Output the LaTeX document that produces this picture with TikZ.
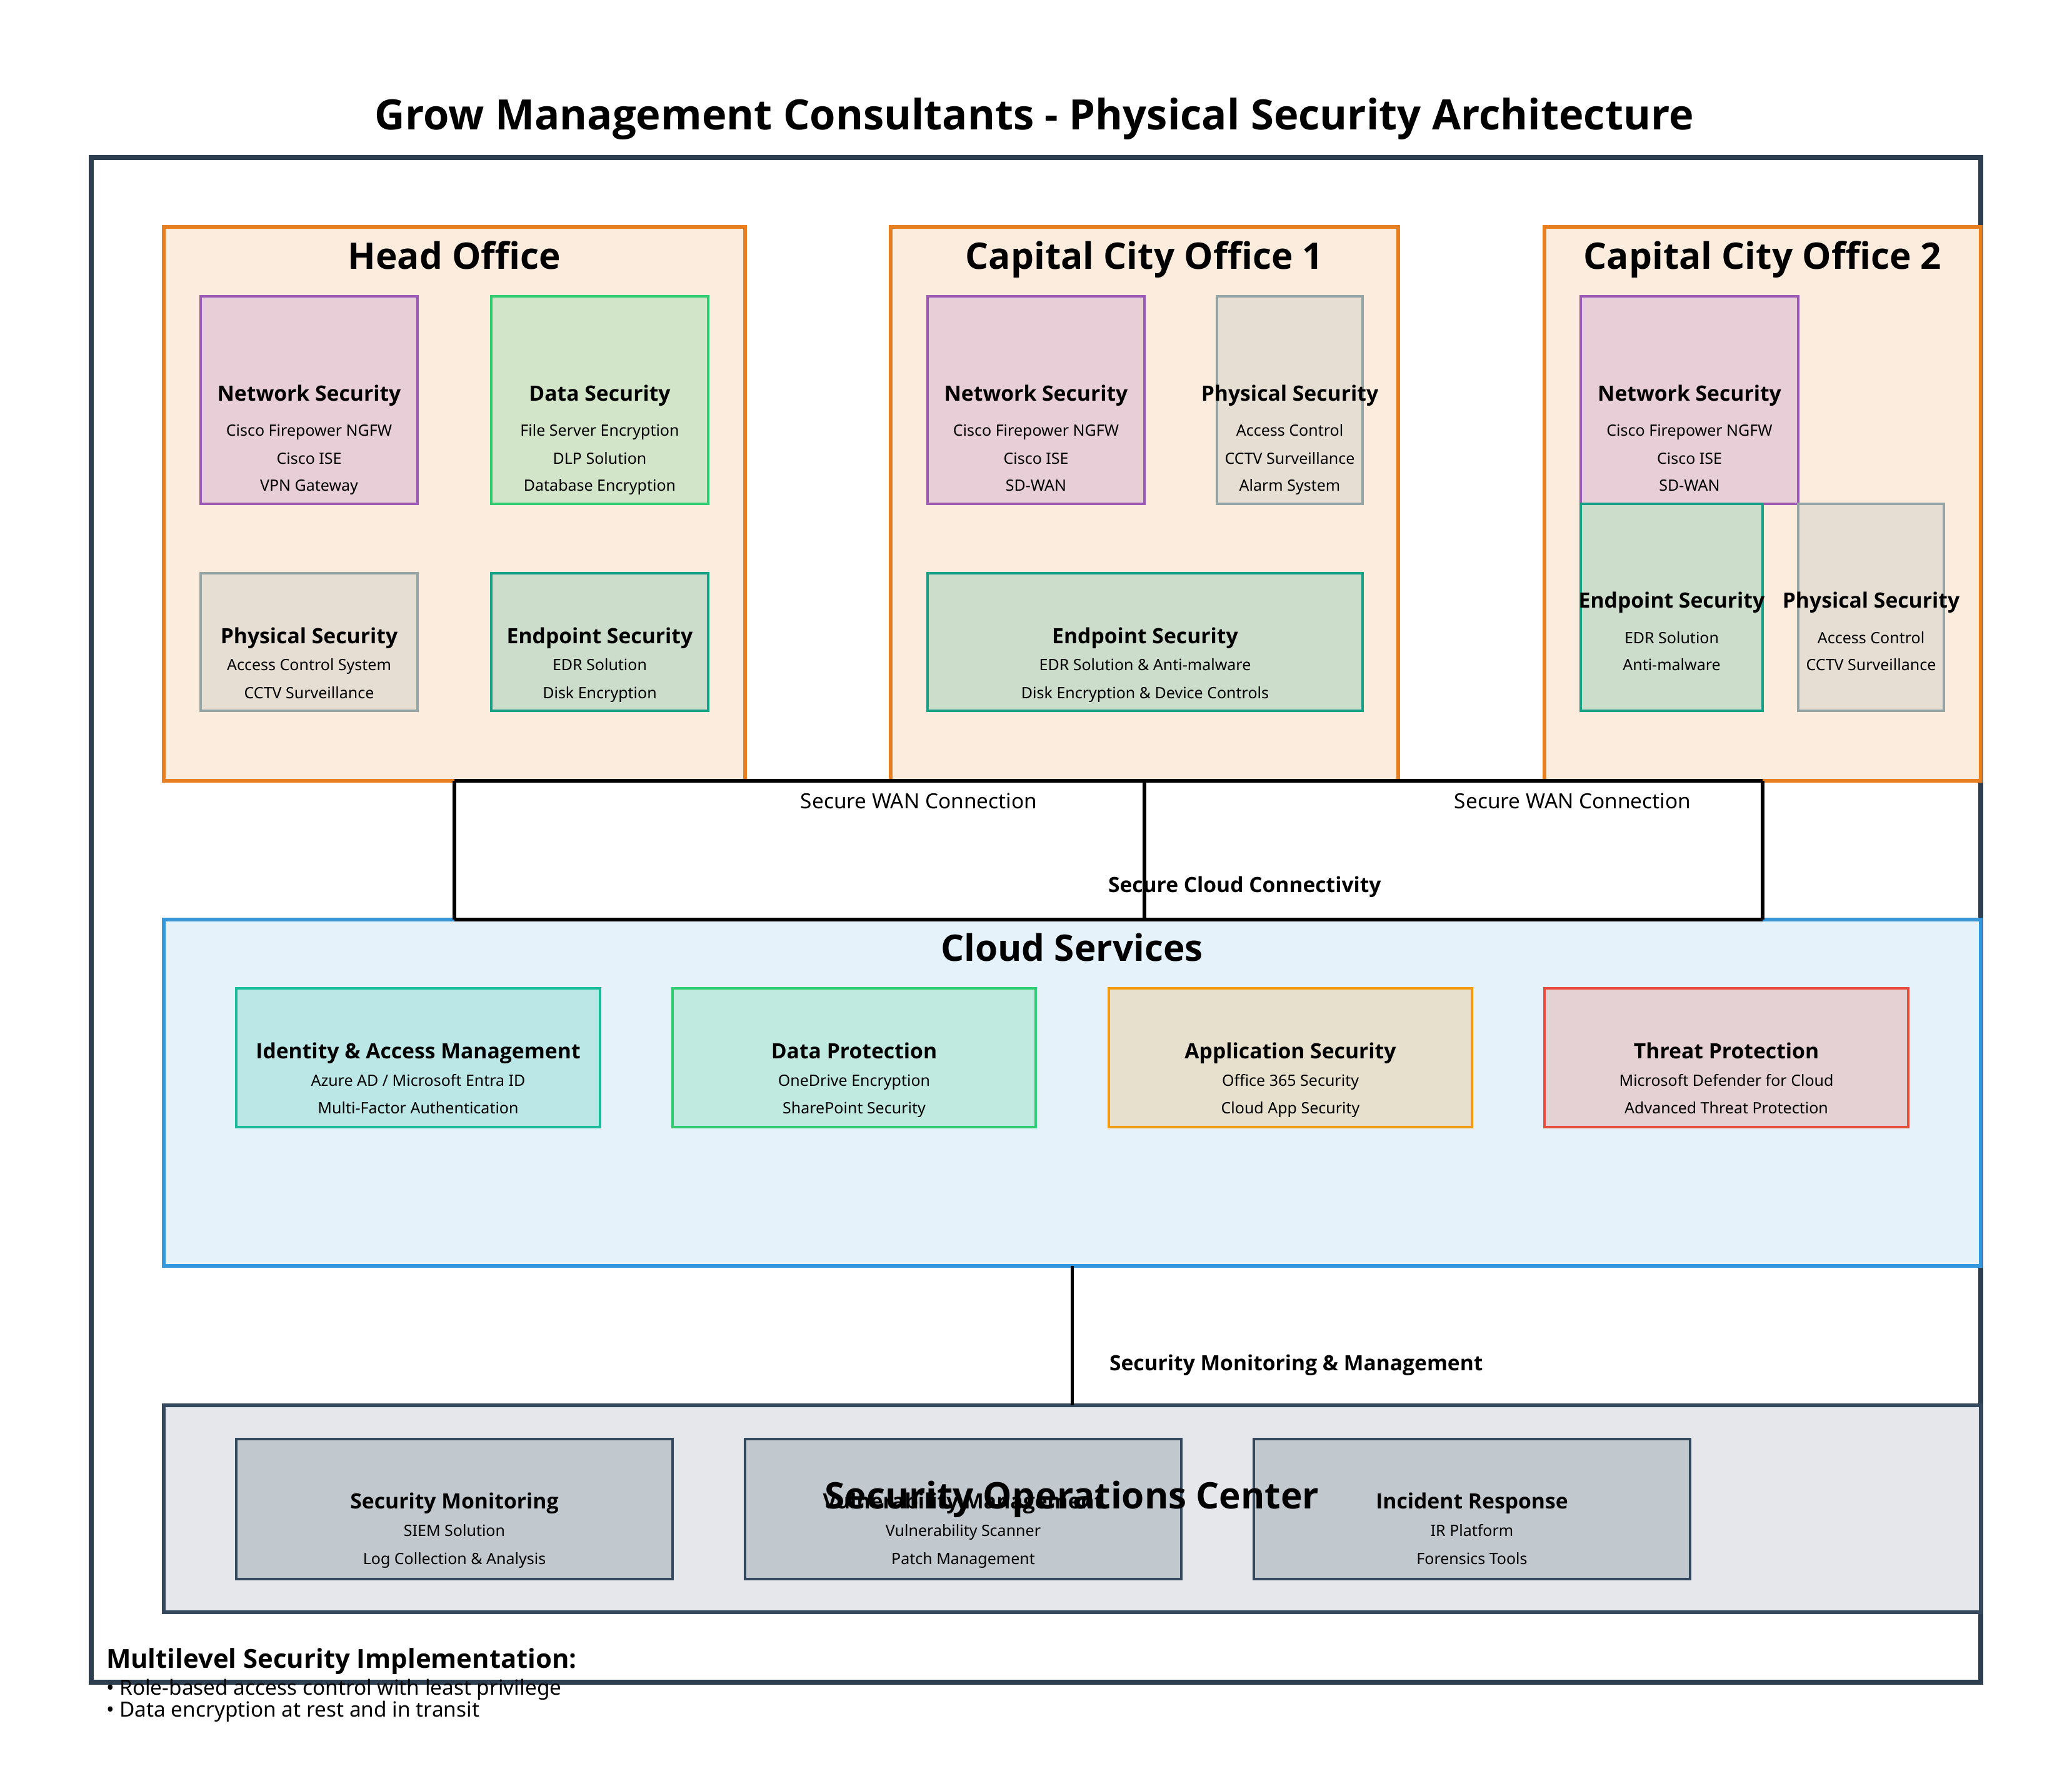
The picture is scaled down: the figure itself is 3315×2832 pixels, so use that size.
\documentclass[tikz,border=0pt]{standalone}
\usepackage{fontspec}
\setmainfont{Noto Sans}
\newfontfamily\bfam{Open Sans}
\definecolor{frameC}{HTML}{2C3E50}
\definecolor{orangeC}{HTML}{E67E22}
\definecolor{purpleC}{HTML}{9B59B6}
\definecolor{greenC}{HTML}{2ECC71}
\definecolor{grayC}{HTML}{95A5A6}
\definecolor{tealC}{HTML}{16A085}
\definecolor{blueC}{HTML}{3498DB}
\definecolor{turqC}{HTML}{1ABC9C}
\definecolor{amberC}{HTML}{F39C12}
\definecolor{redC}{HTML}{E74C3C}
\definecolor{slateC}{HTML}{34495E}
\colorlet{officeF}{orangeC!15}
\colorlet{cloudF}{blueC!13}
\colorlet{socF}{slateC!13}
\newcommand\mybox[6]{\node[#1, anchor=north west, minimum width={(#5-#3)*0.01cm}, minimum height={(#6-#4)*0.01cm}] (#2) at (#3,#4) {};}
\begin{document}
\begin{tikzpicture}[x=0.01cm,y=-0.01cm,
  every node/.style={inner sep=0pt, outer sep=0pt},
  boxbase/.style={rectangle, inner sep=0pt, outer sep=0pt},
  office/.style={boxbase, draw=orangeC, fill=officeF, line width=1.7pt},
  netbox/.style={boxbase, draw=purpleC, fill=purpleC!20!officeF, line width=1.15pt},
  databox/.style={boxbase, draw=greenC, fill=greenC!20!officeF, line width=1.15pt},
  physbox/.style={boxbase, draw=grayC, fill=grayC!20!officeF, line width=1.15pt},
  endbox/.style={boxbase, draw=tealC, fill=tealC!20!officeF, line width=1.15pt},
  cloudbox/.style={boxbase, draw=blueC, fill=cloudF, line width=1.7pt},
  socbox/.style={boxbase, draw=slateC, fill=socF, line width=1.7pt},
  csvc/.style={boxbase, draw=#1, fill=#1!20!cloudF, line width=1.15pt},
  ssvc/.style={boxbase, draw=slateC, fill=slateC!20!socF, line width=1.15pt},
  link/.style={draw=black, line width=1.56pt},
  maintitle/.style={font=\fontsize{19.03pt}{22pt}\selectfont\bfam\bfseries, anchor=base},
  areatitle/.style={font=\fontsize{16.62pt}{19pt}\selectfont\bfam\bfseries, anchor=base},
  boxtitle/.style={font=\fontsize{9.58pt}{11pt}\selectfont\bfam\bfseries, anchor=base},
  boxline/.style={font=\fontsize{7.11pt}{8.5pt}\selectfont, anchor=base},
  linklabel/.style={font=\fontsize{9.49pt}{11pt}\selectfont, anchor=base},
  linklabelb/.style={font=\fontsize{9.55pt}{11pt}\selectfont\bfam\bfseries, anchor=base west},
  notehead/.style={font=\fontsize{11.9pt}{14pt}\selectfont\bfam\bfseries, anchor=base west},
  noteline/.style={font=\fontsize{9.5pt}{11pt}\selectfont, anchor=base west},
]
\useasboundingbox (0,0) rectangle (3315,2832);
\fill[white] (0,0) rectangle (3315,2832);

% title
\node[maintitle] (title) at (1655,207) {Grow Management Consultants - Physical Security Architecture};

% outer frame
\mybox{boxbase, draw=frameC, line width=2.36pt}{frame}{146}{252}{3169}{2691}

% offices
\mybox{office}{ho}{262}{363}{1192}{1249}
\mybox{office}{cco1}{1425}{363}{2237}{1249}
\mybox{office}{cco2}{2471}{363}{3169}{1249}

% Head Office inner
\mybox{netbox}{hoNet}{321}{474}{668}{806}
\mybox{databox}{hoData}{786}{474}{1133}{806}
\mybox{physbox}{hoPhys}{321}{917}{668}{1137}
\mybox{endbox}{hoEnd}{786}{917}{1133}{1137}

% CCO1 inner
\mybox{netbox}{c1Net}{1484}{474}{1831}{806}
\mybox{physbox}{c1Phys}{1947}{474}{2180}{806}
\mybox{endbox}{c1End}{1484}{917}{2180}{1137}

% CCO2 inner
\mybox{netbox}{c2Net}{2529}{474}{2877}{806}
\mybox{endbox}{c2End}{2529}{806}{2820}{1137}
\mybox{physbox}{c2Phys}{2877}{806}{3110}{1137}

% cloud
\mybox{cloudbox}{cloud}{262}{1471}{3169}{2025}
\mybox{csvc=turqC}{iam}{378}{1581}{960}{1803}
\mybox{csvc=greenC}{dp}{1076}{1581}{1657}{1803}
\mybox{csvc=amberC}{as}{1774}{1581}{2355}{1803}
\mybox{csvc=redC}{tp}{2471}{1581}{3053}{1803}

% SOC
\mybox{socbox}{soc}{262}{2248}{3169}{2579}
\mybox{ssvc}{sm}{378}{2302}{1076}{2526}
\mybox{ssvc}{vm}{1192}{2302}{1890}{2526}
\mybox{ssvc}{ir}{2006}{2302}{2704}{2526}

% connectors
\draw[link] (ho.south) -- (cco2.south);
\draw[link] (ho.south) -- (ho.south |- cloud.north);
\draw[link] (cco1.south) -- (cco1.south |- cloud.north);
\draw[link] (cco2.south) -- (cco2.south |- cloud.north);
\draw[link] (ho.south |- cloud.north) -- (cco2.south |- cloud.north);
\draw[link] (cloud.south) -- (soc.north);

% office titles
\node[areatitle] (hoT) at (727,430) {Head Office};
\node[areatitle] (c1T) at (1831,430) {Capital City Office 1};
\node[areatitle] (c2T) at (2820,430) {Capital City Office 2};

% HO texts
\node[boxtitle] (hoNetT) at (494.5,641) {Network Security};
\node[boxline] (hoNet1) at (494.5,697) {Cisco Firepower NGFW};
\node[boxline] (hoNet2) at (494.5,742) {Cisco ISE};
\node[boxline] (hoNet3) at (494.5,785) {VPN Gateway};
\node[boxtitle] (hoDataT) at (959.5,641) {Data Security};
\node[boxline] (hoData1) at (959.5,697) {File Server Encryption};
\node[boxline] (hoData2) at (959.5,742) {DLP Solution};
\node[boxline] (hoData3) at (959.5,785) {Database Encryption};
\node[boxtitle] (hoPhysT) at (494.5,1029) {Physical Security};
\node[boxline] (hoPhys1) at (494.5,1072) {Access Control System};
\node[boxline] (hoPhys2) at (494.5,1117) {CCTV Surveillance};
\node[boxtitle] (hoEndT) at (959.5,1029) {Endpoint Security};
\node[boxline] (hoEnd1) at (959.5,1072) {EDR Solution};
\node[boxline] (hoEnd2) at (959.5,1117) {Disk Encryption};

% CCO1 texts
\node[boxtitle] (c1NetT) at (1657.5,641) {Network Security};
\node[boxline] (c1Net1) at (1657.5,697) {Cisco Firepower NGFW};
\node[boxline] (c1Net2) at (1657.5,742) {Cisco ISE};
\node[boxline] (c1Net3) at (1657.5,785) {SD-WAN};
\node[boxtitle] (c1PhysT) at (2063.5,641) {Physical Security};
\node[boxline] (c1Phys1) at (2063.5,697) {Access Control};
\node[boxline] (c1Phys2) at (2063.5,742) {CCTV Surveillance};
\node[boxline] (c1Phys3) at (2063.5,785) {Alarm System};
\node[boxtitle] (c1EndT) at (1832,1029) {Endpoint Security};
\node[boxline] (c1End1) at (1832,1072) {EDR Solution \& Anti-malware};
\node[boxline] (c1End2) at (1832,1117) {Disk Encryption \& Device Controls};

% CCO2 texts
\node[boxtitle] (c2NetT) at (2703,641) {Network Security};
\node[boxline] (c2Net1) at (2703,697) {Cisco Firepower NGFW};
\node[boxline] (c2Net2) at (2703,742) {Cisco ISE};
\node[boxline] (c2Net3) at (2703,785) {SD-WAN};
\node[boxtitle] (c2EndT) at (2674.5,972) {Endpoint Security};
\node[boxline] (c2End1) at (2674.5,1029) {EDR Solution};
\node[boxline] (c2End2) at (2674.5,1072) {Anti-malware};
\node[boxtitle] (c2PhysT) at (2993.5,972) {Physical Security};
\node[boxline] (c2Phys1) at (2993.5,1029) {Access Control};
\node[boxline] (c2Phys2) at (2993.5,1072) {CCTV Surveillance};

% link labels
\node[linklabel] (wan1) at (1470,1293) {Secure WAN Connection};
\node[linklabel] (wan2) at (2516,1293) {Secure WAN Connection};
\node[linklabelb] (cloudlink) at (1773,1427) {Secure Cloud Connectivity};
\node[linklabelb] (soclink) at (1775,2192) {Security Monitoring \& Management};

% cloud texts
\node[areatitle] (cloudT) at (1715,1537) {Cloud Services};
\node[boxtitle] (iamT) at (669,1693) {Identity \& Access Management};
\node[boxline] (iam1) at (669,1737) {Azure AD / Microsoft Entra ID};
\node[boxline] (iam2) at (669,1781) {Multi-Factor Authentication};
\node[boxtitle] (dpT) at (1366.5,1693) {Data Protection};
\node[boxline] (dp1) at (1366.5,1737) {OneDrive Encryption};
\node[boxline] (dp2) at (1366.5,1781) {SharePoint Security};
\node[boxtitle] (asT) at (2064.5,1693) {Application Security};
\node[boxline] (as1) at (2064.5,1737) {Office 365 Security};
\node[boxline] (as2) at (2064.5,1781) {Cloud App Security};
\node[boxtitle] (tpT) at (2762,1693) {Threat Protection};
\node[boxline] (tp1) at (2762,1737) {Microsoft Defender for Cloud};
\node[boxline] (tp2) at (2762,1781) {Advanced Threat Protection};

% SOC texts
\node[boxtitle] (smT) at (727,2413) {Security Monitoring};
\node[boxline] (sm1) at (727,2457) {SIEM Solution};
\node[boxline] (sm2) at (727,2502) {Log Collection \& Analysis};
\node[boxtitle] (vmT) at (1541,2413) {Vulnerability Management};
\node[boxline] (vm1) at (1541,2457) {Vulnerability Scanner};
\node[boxline] (vm2) at (1541,2502) {Patch Management};
\node[boxtitle] (irT) at (2355,2413) {Incident Response};
\node[boxline] (ir1) at (2355,2457) {IR Platform};
\node[boxline] (ir2) at (2355,2502) {Forensics Tools};
\node[areatitle] (socT) at (1715,2413) {Security Operations Center};

% notes
\node[notehead] (noteH) at (170,2668) {Multilevel Security Implementation:};
\node[noteline] (note1) at (170,2711) {• Role-based access control with least privilege};
\node[noteline] (note2) at (170,2746) {• Data encryption at rest and in transit};
\end{tikzpicture}
\end{document}
